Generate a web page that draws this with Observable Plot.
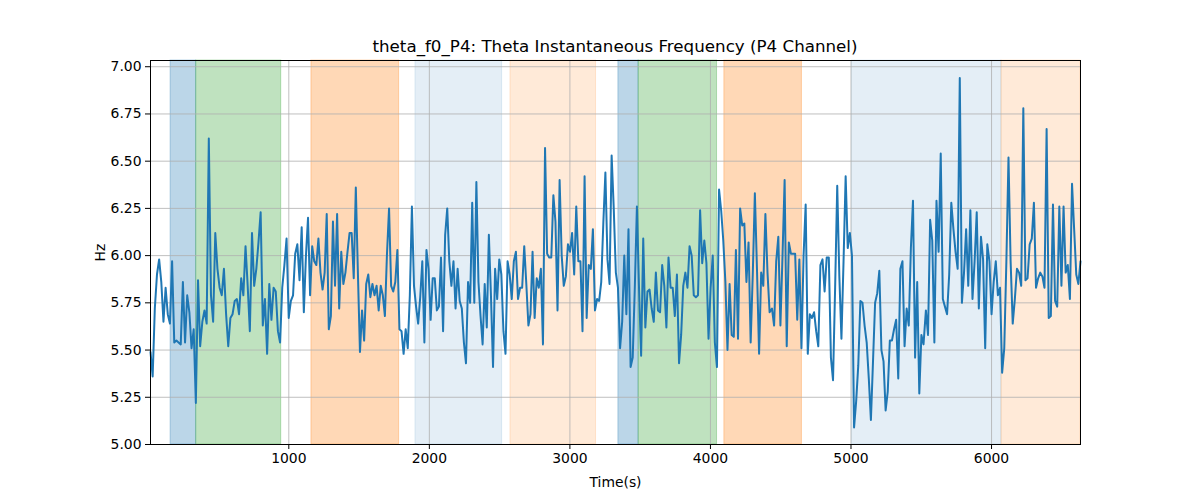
<!DOCTYPE html>
<html>
<head>
<meta charset="utf-8">
<script src="https://cdn.jsdelivr.net/npm/d3@7"></script>
<script src="https://cdn.jsdelivr.net/npm/@observablehq/plot@0.6"></script>
<style>
  html, body { margin: 0; padding: 0; background: #fff; }
  #wrap { width: 1200px; height: 500px; position: relative; font-family: "DejaVu Sans", sans-serif; }
  #title { box-sizing: border-box; width: 1200px; height: 52px; padding: 36px 120px 0 150px; text-align: center; font-size: 16.7px; line-height: 20px; color: #000; }
</style>
</head>
<body>
<div id="wrap">
  <div id="title">theta_f0_P4: Theta Instantaneous Frequency (P4 Channel)</div>
  <div id="chart"></div>
</div>
<script>
// ---- data ----
const titleText = "theta_f0_P4: Theta Instantaneous Frequency (P4 Channel)";
const xLabel = "Time(s)";
const yLabel = "Hz";
const xDomain = [16, 6633];
const yDomain = [5.0, 7.033];
const xTicks = [1000, 2000, 3000, 4000, 5000, 6000];
const yTicks = [5.00, 5.25, 5.50, 5.75, 6.00, 6.25, 6.50, 6.75, 7.00];

// time span (s) covered by each stretch of samples
const segStart = [16, 1122, 2231, 3312, 4438, 5533];
const segEnd   = [1107, 2216, 3297, 4421, 5516, 6633];

const freq1 = [5.49,5.36,5.72,5.90,5.98,5.86,5.65,5.83,5.69,5.64,5.97,5.54,5.55,5.54,5.53,5.86,5.54,5.79,5.70,5.51,5.61,5.22,5.87,5.52,5.65,5.71,5.64,6.62,5.79,5.65,6.12,5.93,5.83,5.79,5.93,5.69,5.52,5.67,5.69,5.76,5.77,5.69,5.88,5.79,6.05,5.84,5.60,6.12,5.84,5.93,6.07,6.23,5.63,5.77,5.48,5.85,5.66,5.83,5.81,5.60,5.54,5.83,5.95,6.09,5.67,5.76,5.79,6.01,6.06,5.87,6.15,5.70];
const freq2 = [6.00,6.20,5.79,6.05,5.97,5.95,6.09,5.91,5.82,5.91,6.22,5.61,5.68,6.18,5.84,6.22,5.72,6.02,5.85,5.91,6.02,6.12,6.12,5.88,6.36,5.91,5.49,5.71,5.55,5.85,5.90,5.78,5.85,5.79,5.84,5.71,5.84,5.79,5.68,6.01,6.25,5.84,5.81,5.86,6.03,5.61,5.60,5.48,5.61,5.51,5.79,6.26,5.84,5.73,5.64,5.78,5.97,5.54,6.03,5.93,5.66,5.88,5.88,5.71,5.73,5.99,5.60,6.11,6.25,5.97,5.84,5.97,5.72,5.93,5.76];
const freq3 = [5.72,5.54,5.43,5.86,5.75,6.28,5.75,6.39,5.86,5.68,5.53,5.85,5.62,6.11,5.79,5.41,5.93,5.77,5.98,5.90,5.60,5.48,5.97,5.90,5.77,5.97,6.02,5.77,5.83,5.83,6.05,5.85,5.63,5.69,6.02,5.67,5.88,5.83,5.93,5.53,6.57,6.01,5.99,5.99,6.32,6.18,5.71,6.40,6.00,5.84,5.89,6.06,6.02,6.12,5.90,6.26,5.97,5.97,5.60,6.42,5.67,5.95,5.93,6.14,5.71,5.77,5.76,5.86,6.17,6.44,5.98,5.85,6.53];
const freq4 = [6.25,5.91,5.83,5.51,5.65,6.00,5.69,6.14,5.41,5.46,5.83,6.26,5.83,5.47,6.09,5.62,5.81,5.82,5.72,5.65,5.91,5.71,5.70,5.95,5.84,5.62,5.99,5.83,5.83,5.68,5.90,5.43,5.58,5.84,5.91,5.83,6.05,6.00,5.79,5.78,5.79,6.24,5.96,6.08,5.96,5.56,5.83,6.00,5.54,5.41,6.35,6.24,6.08,5.86,5.50,5.85,5.58,5.57,6.03,5.56,6.25,6.16,6.17,5.86,6.07,5.54,5.90,6.33,5.93,5.48,5.91,5.84,6.22,5.91,5.70];
const freq5 = [5.72,5.63,5.97,6.10,5.63,6.00,6.40,5.52,6.07,6.01,6.01,6.01,5.66,5.98,5.51,6.00,6.27,5.48,5.69,5.67,5.70,5.60,5.52,5.95,5.98,5.81,5.99,5.99,5.46,5.34,5.83,6.37,5.89,5.56,5.97,6.42,6.04,6.12,6.00,5.09,5.23,5.42,5.76,5.75,5.63,5.54,5.35,5.13,5.44,5.75,5.80,5.92,5.50,5.44,5.18,5.28,5.55,5.55,5.61,5.66,5.35,5.93,5.97,5.52,5.72,5.63,6.04,6.29,5.46,5.86,5.27,5.58,5.53];
const freq6 = [5.71,5.58,6.19,6.08,5.54,6.29,6.02,6.54,5.77,5.73,5.69,5.90,6.28,6.14,6.02,5.93,6.94,5.75,5.91,6.14,5.84,6.24,5.77,5.97,6.23,5.72,6.10,5.98,5.51,6.06,5.97,5.69,5.86,5.97,5.79,5.83,5.38,5.51,5.97,6.52,5.97,5.64,5.77,5.93,5.91,5.84,6.78,5.87,5.88,6.06,6.09,6.28,5.83,5.88,5.91,5.89,5.83,6.67,5.67,5.68,6.27,5.76,5.73,6.26,5.84,6.26,5.91,5.95,5.77,6.38,6.14,5.90,5.85,5.97];

// shaded stage bands
const bandStart   = [159, 341, 1161, 1901, 2577, 3345, 3489, 4099, 5007, 6071];
const bandEnd     = [341, 946, 1785, 2518, 3186, 3489, 4047, 4651, 6071, 6633];
const bandColor   = ["#1f77b4","#2ca02c","#ff7f0e","#1f77b4","#ff7f0e","#1f77b4","#2ca02c","#ff7f0e","#1f77b4","#ff7f0e"];
const bandOpacity = [0.3, 0.3, 0.3, 0.12, 0.16, 0.3, 0.3, 0.3, 0.12, 0.16];

// ---- build tables ----
const segs = [freq1, freq2, freq3, freq4, freq5, freq6];
const series = [];
segs.forEach((vals, s) => {
  const n = vals.length;
  vals.forEach((v, i) => {
    series.push({t: segStart[s] + (segEnd[s] - segStart[s]) * (n > 1 ? i / (n - 1) : 0), hz: v});
  });
});
const bands = bandStart.map((s, i) => ({start: s, end: bandEnd[i], color: bandColor[i], op: bandOpacity[i]}));

const bandMarks = bands.map(b => Plot.rect([b], {
  x1: "start", x2: "end",
  fill: b.color, fillOpacity: b.op,
  stroke: b.color, strokeOpacity: b.op, strokeWidth: 1
}));

const chart = Plot.plot({
  width: 1200,
  height: 448,
  marginTop: 8,
  marginBottom: 56,
  marginLeft: 150,
  marginRight: 120,
  style: {fontFamily: "DejaVu Sans, sans-serif", fontSize: "13.9px", background: "white", color: "black"},
  x: {domain: xDomain},
  y: {domain: yDomain},
  marks: [
    ...bandMarks,
    Plot.gridX(xTicks, {stroke: "#b0b0b0", strokeOpacity: 1, strokeWidth: 0.8}),
    Plot.gridY(yTicks, {stroke: "#b0b0b0", strokeOpacity: 1, strokeWidth: 0.8}),
    Plot.line(series, {x: "t", y: "hz", stroke: "#1f77b4", strokeWidth: 2}),
    Plot.frame({stroke: "black", strokeWidth: 1}),
    Plot.axisX({ticks: xTicks, tickFormat: d3.format("d"), tickSize: 5, tickPadding: 4,
      label: xLabel, labelAnchor: "center", labelArrow: "none", labelOffset: 42}),
    Plot.axisY({ticks: yTicks, tickFormat: d3.format(".2f"), tickSize: 5, tickPadding: 4,
      label: yLabel, labelAnchor: "center", labelArrow: "none", labelOffset: 55})
  ]
});
document.getElementById("chart").appendChild(chart);
</script>
</body>
</html>
